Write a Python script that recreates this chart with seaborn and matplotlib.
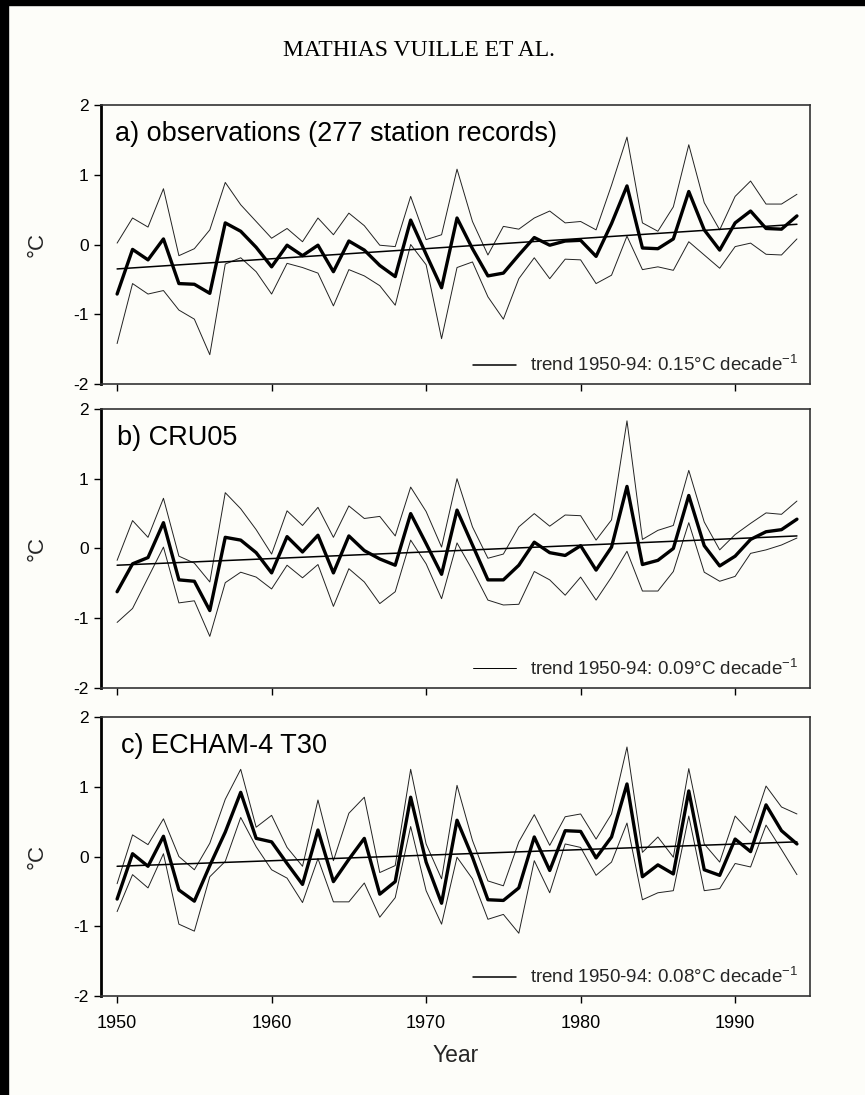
import numpy as np
import pandas as pd
import seaborn as sns
import matplotlib.pyplot as plt
from matplotlib.patches import Rectangle


## DATA
years = list(range(1950, 1995))

obs_mean = [-0.71, -0.07, -0.22, 0.08, -0.56, -0.57, -0.70, 0.31, 0.19, -0.04,
            -0.32, -0.01, -0.16, -0.01, -0.39, 0.05, -0.08, -0.30, -0.46, 0.35,
            -0.14, -0.62, 0.38, -0.06, -0.45, -0.41, -0.15, 0.10, -0.01, 0.05,
            0.06, -0.17, 0.30, 0.84, -0.05, -0.06, 0.08, 0.76, 0.21, -0.08,
            0.31, 0.48, 0.23, 0.22, 0.41]
obs_upper = [0.02, 0.38, 0.25, 0.80, -0.16, -0.06, 0.21, 0.89, 0.57, 0.33,
             0.09, 0.23, 0.04, 0.38, 0.14, 0.45, 0.27, -0.01, -0.03, 0.69,
             0.07, 0.14, 1.08, 0.33, -0.15, 0.26, 0.22, 0.38, 0.48, 0.31,
             0.33, 0.21, 0.85, 1.54, 0.31, 0.19, 0.54, 1.43, 0.60, 0.21,
             0.69, 0.91, 0.58, 0.58, 0.72]
obs_lower = [-1.42, -0.56, -0.71, -0.66, -0.94, -1.07, -1.58, -0.28, -0.19, -0.39,
             -0.71, -0.27, -0.33, -0.41, -0.88, -0.36, -0.45, -0.59, -0.87, 0.00,
             -0.29, -1.35, -0.33, -0.25, -0.75, -1.07, -0.49, -0.19, -0.49, -0.21,
             -0.22, -0.56, -0.44, 0.12, -0.36, -0.32, -0.37, 0.04, -0.15, -0.34,
             -0.03, 0.02, -0.14, -0.15, 0.08]

cru_mean = [-0.62, -0.22, -0.13, 0.37, -0.45, -0.47, -0.89, 0.16, 0.12, -0.06,
            -0.35, 0.17, -0.05, 0.19, -0.35, 0.18, -0.03, -0.15, -0.24, 0.50,
            0.07, -0.37, 0.55, 0.05, -0.45, -0.45, -0.24, 0.09, -0.06, -0.10,
            0.04, -0.31, 0.02, 0.89, -0.23, -0.17, 0.00, 0.76, 0.04, -0.25,
            -0.11, 0.13, 0.24, 0.27, 0.42]
cru_upper = [-0.17, 0.40, 0.16, 0.72, -0.11, -0.21, -0.48, 0.80, 0.57, 0.27,
             -0.08, 0.54, 0.33, 0.59, 0.16, 0.61, 0.43, 0.46, 0.18, 0.88,
             0.53, 0.02, 1.00, 0.31, -0.14, -0.08, 0.31, 0.50, 0.32, 0.48,
             0.47, 0.12, 0.41, 1.83, 0.13, 0.26, 0.33, 1.12, 0.38, -0.02,
             0.20, 0.36, 0.51, 0.49, 0.68]
cru_lower = [-1.06, -0.86, -0.42, 0.02, -0.78, -0.75, -1.26, -0.49, -0.34, -0.41,
             -0.58, -0.24, -0.42, -0.23, -0.83, -0.29, -0.48, -0.79, -0.62, 0.12,
             -0.22, -0.72, 0.08, -0.31, -0.74, -0.81, -0.80, -0.33, -0.45, -0.67,
             -0.41, -0.74, -0.41, -0.04, -0.61, -0.61, -0.33, 0.37, -0.34, -0.47,
             -0.40, -0.07, -0.02, 0.05, 0.15]

echam_mean = [-0.61, 0.04, -0.14, 0.29, -0.48, -0.64, -0.13, 0.35, 0.92, 0.26,
              0.21, -0.10, -0.40, 0.38, -0.36, -0.04, 0.26, -0.54, -0.36, 0.85,
              -0.08, -0.67, 0.52, -0.01, -0.62, -0.63, -0.45, 0.28, -0.20, 0.37,
              0.36, -0.02, 0.28, 1.04, -0.29, -0.12, -0.25, 0.94, -0.19, -0.27,
              0.25, 0.07, 0.74, 0.37, 0.18]
echam_upper = [-0.39, 0.31, 0.17, 0.54, 0.00, -0.19, 0.19, 0.82, 1.25, 0.42,
               0.59, 0.13, -0.14, 0.81, -0.06, 0.62, 0.85, -0.23, -0.13, 1.25,
               0.18, -0.32, 1.02, 0.23, -0.35, -0.42, 0.21, 0.60, 0.16, 0.57,
               0.61, 0.25, 0.61, 1.57, 0.06, 0.28, -0.01, 1.26, 0.18, -0.08,
               0.58, 0.34, 1.01, 0.71, 0.61]
echam_lower = [-0.79, -0.26, -0.45, 0.04, -0.97, -1.07, -0.29, -0.07, 0.56, 0.14,
               -0.19, -0.31, -0.66, -0.03, -0.65, -0.65, -0.38, -0.87, -0.59, 0.43,
               -0.49, -0.97, -0.01, -0.32, -0.90, -0.83, -1.10, -0.06, -0.52, 0.18,
               0.13, -0.27, -0.08, 0.48, -0.62, -0.52, -0.49, 0.58, -0.49, -0.46,
               -0.10, -0.15, 0.45, 0.10, -0.26]

trend_years = [1950, 1994]
trend_obs = [-0.35, 0.29]
trend_cru = [-0.24, 0.18]
trend_echam = [-0.14, 0.21]

panel_titles = ['a) observations (277 station records)', 'b) CRU05', 'c) ECHAM-4 T30']
trend_labels = ['trend 1950-94: 0.15\u00b0C decade$^{-1}$',
                'trend 1950-94: 0.09\u00b0C decade$^{-1}$',
                'trend 1950-94: 0.08\u00b0C decade$^{-1}$']
yticks = [-2, -1, 0, 1, 2]
xticks = [1950, 1960, 1970, 1980, 1990]


## SET STYLE
sns.set_theme(style='ticks')
plt.rcParams['font.family'] = ['Liberation Sans', 'DejaVu Sans']
plt.rcParams['mathtext.fontset'] = 'custom'
plt.rcParams['mathtext.rm'] = 'Liberation Sans'
bg = '#fdfdf9'

fig = plt.figure(figsize=(8.65, 10.95), dpi=100, facecolor=bg)

panels = [(obs_mean, obs_upper, obs_lower, trend_obs),
          (cru_mean, cru_upper, cru_lower, trend_cru),
          (echam_mean, echam_upper, echam_lower, trend_echam)]
bottoms = [0.6493, 0.3717, 0.0904]
title_x = [0.020, 0.023, 0.028]
legend_lw = [1.1, 0.7, 1.1]

for i, (mean, upper, lower, trend) in enumerate(panels):
    ax = fig.add_axes([0.1168, bottoms[i], 0.8197, 0.2548], facecolor=bg)
    df = pd.DataFrame({'Year': years, 'mean': mean, 'upper': upper, 'lower': lower})

    sns.lineplot(data=df, x='Year', y='upper', ax=ax, color='#222222', lw=0.7)
    sns.lineplot(data=df, x='Year', y='lower', ax=ax, color='#222222', lw=0.7)
    sns.lineplot(data=df, x='Year', y='mean', ax=ax, color='black', lw=2.4)
    sns.lineplot(x=trend_years, y=trend, ax=ax, color='black', lw=1.1,
                 label=trend_labels[i])

    ax.set_xlim(1948.96, 1994.85)
    ax.set_ylim(-2, 2)
    ax.set_yticks(yticks)
    ax.set_yticklabels([str(t) for t in yticks])
    ax.set_xticks(xticks)
    if i < 2:
        ax.set_xticklabels([])
        ax.set_xlabel('')
    else:
        ax.set_xlabel('Year', fontsize=16.5, labelpad=8)
    ax.set_ylabel('\u00b0C', fontsize=16, labelpad=18)
    ax.tick_params(axis='both', direction='out', length=5, width=1,
                   color='black', labelcolor='black')
    ax.tick_params(axis='x', labelsize=13, pad=9)
    ax.tick_params(axis='y', labelsize=12.5, pad=4)
    for side in ['top', 'right', 'bottom']:
        ax.spines[side].set_linewidth(1.2)
        ax.spines[side].set_color('#333333')
    ax.spines['left'].set_linewidth(2)
    ax.spines['left'].set_color('black')

    ax.text(title_x[i], 0.871, panel_titles[i], transform=ax.transAxes,
            fontsize=19.5, va='baseline', ha='left', color='black')
    leg = ax.legend(loc='lower right', bbox_to_anchor=(0.983, 0.032), frameon=False,
                    fontsize=13.5, handlelength=2.3, handletextpad=0.75,
                    borderpad=0, borderaxespad=0)
    leg.get_lines()[0].set_linewidth(legend_lw[i])

fig.text(0.484, 0.954, 'MATHIAS VUILLE ET AL.', ha='center', va='center',
         fontsize=17, family='Liberation Serif', color='black')

# black frame on the left and top edges of the scanned page
fig.add_artist(Rectangle((0, 0), 0.009, 1, transform=fig.transFigure,
                         color='black', zorder=10))
fig.add_artist(Rectangle((0, 0.9955), 1, 0.0045, transform=fig.transFigure,
                         color='black', zorder=10))

plt.savefig('out.png', dpi=100, facecolor=bg)
